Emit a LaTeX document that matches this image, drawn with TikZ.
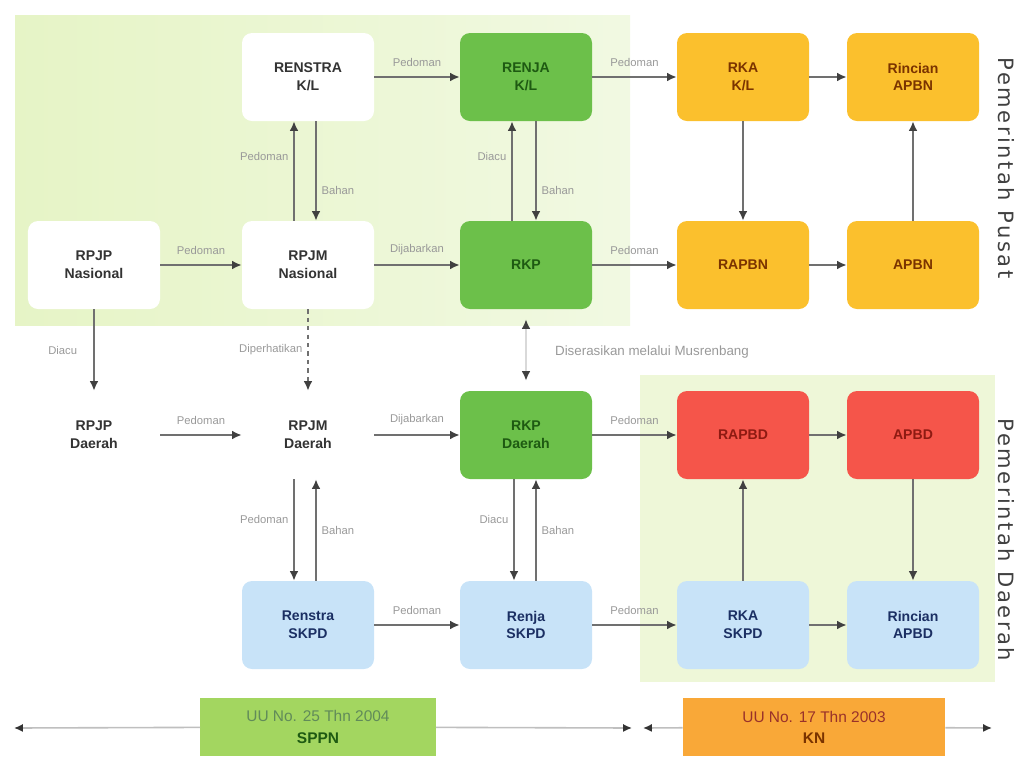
\documentclass[tikz,border=0pt]{standalone}
\usepackage{fontspec}
\setmainfont{Liberation Sans}
\newfontfamily\sidefont[LetterSpace=12]{DejaVu Sans}
\usetikzlibrary{arrows.meta}
\definecolor{latarkiri}{HTML}{E6F4C6}
\definecolor{latarkanan}{HTML}{F1F9E2}
\definecolor{latar}{HTML}{EEF7D8}
\definecolor{hijau}{HTML}{6CC04A}
\definecolor{hijauteks}{HTML}{1E5A12}
\definecolor{kuning}{HTML}{FBC02D}
\definecolor{kuningteks}{HTML}{7A3300}
\definecolor{merah}{HTML}{F5554A}
\definecolor{merahteks}{HTML}{8E1A12}
\definecolor{biru}{HTML}{C8E3F8}
\definecolor{biruteks}{HTML}{1B2F63}
\definecolor{garis}{HTML}{707070}
\definecolor{ketwarna}{HTML}{999999}
\definecolor{sppnwarna}{HTML}{A3D660}
\definecolor{knwarna}{HTML}{F9A838}
\begin{document}
\begin{tikzpicture}[x=0.25mm,y=-0.25mm,
  kotak/.style={rounded corners=2.5mm,minimum width=33mm,minimum height=22mm,
    align=center,inner sep=1pt,font=\fontsize{10}{12.5}\selectfont\bfseries},
  putih/.style={kotak,fill=white,text=black!80},
  khijau/.style={kotak,fill=hijau,text=hijauteks},
  kkuning/.style={kotak,fill=kuning,text=kuningteks},
  kmerah/.style={kotak,fill=merah,text=merahteks},
  kbiru/.style={kotak,fill=biru,text=biruteks},
  panah/.style={draw=garis,line width=0.5mm,-{Latex[length=2.4mm,width=2.2mm,color=black!75]}},
  ket/.style={font=\fontsize{8}{9.5}\selectfont,text=ketwarna},
  uu/.style={align=center,minimum height=14.5mm,inner sep=1pt,font=\fontsize{11}{15}\selectfont},
  garisuu/.style={draw=black!25,line width=0.4mm,-{Latex[length=2.2mm,width=2mm,color=black!80]}}
]
\useasboundingbox (0,0) rectangle (1022,756);
\shade[left color=latarkiri,right color=latarkanan] (15,15) rectangle (630,325);
\fill[latar] (640,375) rectangle (995,682);

\node[putih] (renstrakl) at (308,77) {RENSTRA\\K/L};
\node[khijau] (renjakl) at (526,77) {RENJA\\K/L};
\node[kkuning] (rkakl) at (743,77) {RKA\\K/L};
\node[kkuning] (rincianapbn) at (913,77) {Rincian\\APBN};
\node[putih] (rpjpnas) at (94,265) {RPJP\\Nasional};
\node[putih] (rpjmnas) at (308,265) {RPJM\\Nasional};
\node[khijau] (rkp) at (526,265) {RKP};
\node[kkuning] (rapbn) at (743,265) {RAPBN};
\node[kkuning] (apbn) at (913,265) {APBN};
\node[putih] (rpjpd) at (94,435) {RPJP\\Daerah};
\node[putih] (rpjmd) at (308,435) {RPJM\\Daerah};
\node[khijau] (rkpd) at (526,435) {RKP\\Daerah};
\node[kmerah] (rapbd) at (743,435) {RAPBD};
\node[kmerah] (apbd) at (913,435) {APBD};
\node[kbiru] (renstraskpd) at (308,625) {Renstra\\SKPD};
\node[kbiru] (renjaskpd) at (526,625) {Renja\\SKPD};
\node[kbiru] (rkaskpd) at (743,625) {RKA\\SKPD};
\node[kbiru] (rincianapbd) at (913,625) {Rincian\\APBD};

\draw[panah] (renstrakl) -- (renjakl) node[midway,above=3pt,ket] {Pedoman};
\draw[panah] (renjakl) -- (rkakl) node[midway,above=3pt,ket] {Pedoman};
\draw[panah] (rkakl) -- (rincianapbn);
\draw[panah] (rpjpnas) -- (rpjmnas) node[midway,above=3pt,ket] {Pedoman};
\draw[panah] (rpjmnas) -- (rkp) node[midway,above=3pt,ket] {Dijabarkan};
\draw[panah] (rkp) -- (rapbn) node[midway,above=3pt,ket] {Pedoman};
\draw[panah] (rapbn) -- (apbn);
\draw[panah] (rkakl) -- (rapbn);
\draw[panah] (apbn) -- (rincianapbn);
\draw[panah] ([xshift=-3.5mm]rpjmnas.north) -- ([xshift=-3.5mm]renstrakl.south) node[pos=0.65,left,ket] {Pedoman};
\draw[panah] ([xshift=2mm]renstrakl.south) -- ([xshift=2mm]rpjmnas.north) node[pos=0.7,right,ket] {Bahan};
\draw[panah] ([xshift=-3.5mm]rkp.north) -- ([xshift=-3.5mm]renjakl.south) node[pos=0.65,left,ket] {Diacu};
\draw[panah] ([xshift=2.5mm]renjakl.south) -- ([xshift=2.5mm]rkp.north) node[pos=0.7,right,ket] {Bahan};

\draw[panah] (rpjpnas) -- (rpjpd) node[midway,left=8pt,ket] {Diacu};
\draw[panah,dashed] (rpjmnas) -- (rpjmd) node[midway,left,ket] {Diperhatikan};
\coordinate (musren) at (526,350);
\draw[panah,draw=black!15] (musren) -- ([yshift=-2.5mm]rkp.south);
\draw[panah,draw=black!15] (musren) -- ([yshift=2.5mm]rkpd.north);
\node[ket,font=\fontsize{9.5}{11}\selectfont] (musrenket) at (652,352) {Diserasikan melalui Musrenbang};

\draw[panah] (rpjpd) -- (rpjmd) node[midway,above=3pt,ket] {Pedoman};
\draw[panah] (rpjmd) -- (rkpd) node[midway,above=3pt,ket] {Dijabarkan};
\draw[panah] (rkpd) -- (rapbd) node[midway,above=3pt,ket] {Pedoman};
\draw[panah] (rapbd) -- (apbd);
\draw[panah] ([xshift=-3.5mm]rpjmd.south) -- ([xshift=-3.5mm]renstraskpd.north) node[pos=0.4,left,ket] {Pedoman};
\draw[panah] ([xshift=2mm]renstraskpd.north) -- ([xshift=2mm]rpjmd.south) node[pos=0.5,right,ket] {Bahan};
\draw[panah] ([xshift=-3mm]rkpd.south) -- ([xshift=-3mm]renjaskpd.north) node[pos=0.4,left,ket] {Diacu};
\draw[panah] ([xshift=2.5mm]renjaskpd.north) -- ([xshift=2.5mm]rkpd.south) node[pos=0.5,right,ket] {Bahan};
\draw[panah] (renstraskpd) -- (renjaskpd) node[midway,above=3pt,ket] {Pedoman};
\draw[panah] (renjaskpd) -- (rkaskpd) node[midway,above=3pt,ket] {Pedoman};
\draw[panah] (rkaskpd) -- (rincianapbd);
\draw[panah] (rkaskpd) -- (rapbd);
\draw[panah] (apbd) -- (rincianapbd);

\node[uu,fill=sppnwarna,minimum width=58.75mm] (sppn) at (318,727)
  {\textcolor{hijauteks!70}{UU No. 25 Thn 2004}\\\textcolor{hijauteks}{\bfseries SPPN}};
\node[uu,fill=knwarna,minimum width=65.5mm] (kn) at (814,727)
  {\textcolor{merahteks!90}{UU No. 17 Thn 2003}\\\textcolor{kuningteks}{\bfseries KN}};
\coordinate (sppnkiri) at (14,728);
\coordinate (sppnkanan) at (632,728);
\coordinate (knkiri) at (643,728);
\coordinate (knkanan) at (992,728);
\draw[garisuu] (sppn) -- (sppnkiri);
\draw[garisuu] (sppn) -- (sppnkanan);
\draw[garisuu] (kn) -- (knkiri);
\draw[garisuu] (kn) -- (knkanan);

\node[rotate=-90,font=\sidefont\fontsize{15}{17}\selectfont,text=black!75] (pusat) at (1006,168) {Pemerintah Pusat};
\node[rotate=-90,font=\sidefont\fontsize{15}{17}\selectfont,text=black!75] (daerah) at (1006,540) {Pemerintah Daerah};
\end{tikzpicture}
\end{document}
